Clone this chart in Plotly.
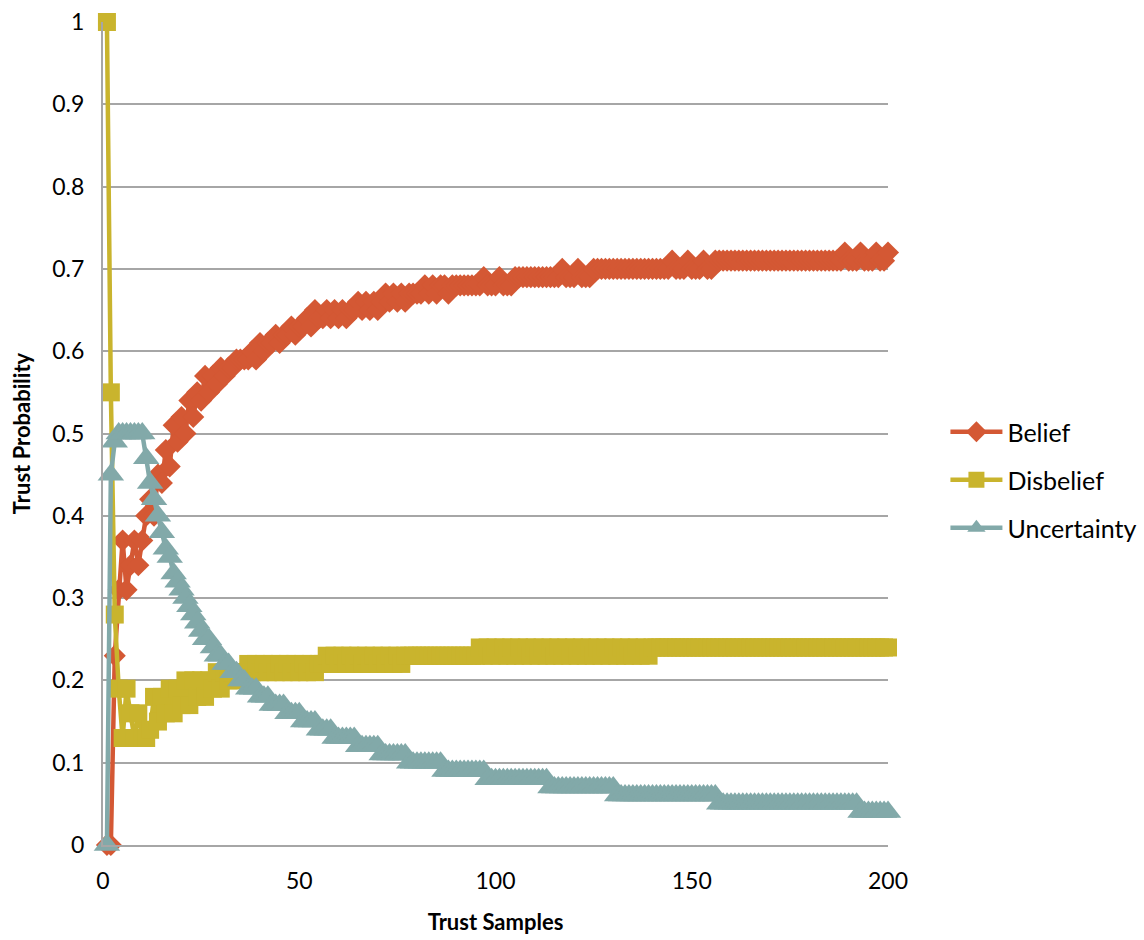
import plotly.graph_objects as go

# Trust sample index
samples = list(range(1, 201))

belief = [
    0.00, 0.00, 0.23, 0.31, 0.37, 0.31, 0.34, 0.37, 0.34, 0.37,
    0.40, 0.42, 0.40, 0.45, 0.44, 0.48, 0.46, 0.51, 0.49, 0.52,
    0.50, 0.54, 0.52, 0.55, 0.54, 0.57, 0.55, 0.57, 0.56, 0.58,
    0.57, 0.58, 0.58, 0.59, 0.59, 0.59, 0.59, 0.60, 0.59, 0.61,
    0.60, 0.61, 0.61, 0.62, 0.61, 0.62, 0.62, 0.63, 0.62, 0.63,
    0.63, 0.64, 0.63, 0.65, 0.64, 0.64, 0.65, 0.64, 0.65, 0.64,
    0.65, 0.64, 0.65, 0.65, 0.66, 0.65, 0.66, 0.65, 0.66, 0.65,
    0.66, 0.67, 0.66, 0.67, 0.66, 0.67, 0.66, 0.67, 0.67, 0.67,
    0.67, 0.68, 0.67, 0.68, 0.67, 0.68, 0.68, 0.67, 0.68, 0.68,
    0.68, 0.68, 0.68, 0.68, 0.68, 0.68, 0.69, 0.68, 0.68, 0.68,
    0.69, 0.68, 0.68, 0.68, 0.69, 0.69, 0.69, 0.69, 0.69, 0.69,
    0.69, 0.69, 0.69, 0.69, 0.69, 0.69, 0.70, 0.69, 0.69, 0.69,
    0.70, 0.69, 0.69, 0.69, 0.70, 0.70, 0.70, 0.70, 0.70, 0.70,
    0.70, 0.70, 0.70, 0.70, 0.70, 0.70, 0.70, 0.70, 0.70, 0.70,
    0.70, 0.70, 0.70, 0.70, 0.71, 0.70, 0.70, 0.70, 0.71, 0.70,
    0.70, 0.70, 0.71, 0.70, 0.70, 0.71, 0.71, 0.71, 0.71, 0.71,
    0.71, 0.71, 0.71, 0.71, 0.71, 0.71, 0.71, 0.71, 0.71, 0.71,
    0.71, 0.71, 0.71, 0.71, 0.71, 0.71, 0.71, 0.71, 0.71, 0.71,
    0.71, 0.71, 0.71, 0.71, 0.71, 0.71, 0.71, 0.71, 0.72, 0.71,
    0.71, 0.71, 0.72, 0.71, 0.71, 0.71, 0.72, 0.71, 0.71, 0.72,
]

disbelief = [
    1.00, 0.55, 0.28, 0.19, 0.13, 0.19, 0.16, 0.13, 0.16, 0.13,
    0.13, 0.14, 0.18, 0.15, 0.18, 0.16, 0.19, 0.16, 0.19, 0.17,
    0.20, 0.17, 0.20, 0.18, 0.20, 0.18, 0.20, 0.19, 0.21, 0.19,
    0.21, 0.20, 0.21, 0.20, 0.21, 0.21, 0.22, 0.21, 0.22, 0.21,
    0.22, 0.21, 0.22, 0.21, 0.22, 0.21, 0.22, 0.21, 0.22, 0.21,
    0.22, 0.21, 0.22, 0.21, 0.22, 0.22, 0.23, 0.22, 0.23, 0.22,
    0.23, 0.22, 0.23, 0.22, 0.23, 0.22, 0.23, 0.22, 0.23, 0.22,
    0.23, 0.22, 0.23, 0.22, 0.23, 0.22, 0.23, 0.23, 0.23, 0.23,
    0.23, 0.23, 0.23, 0.23, 0.23, 0.23, 0.23, 0.23, 0.23, 0.23,
    0.23, 0.23, 0.23, 0.23, 0.23, 0.24, 0.23, 0.24, 0.23, 0.24,
    0.23, 0.24, 0.23, 0.24, 0.23, 0.24, 0.23, 0.24, 0.23, 0.24,
    0.23, 0.24, 0.23, 0.24, 0.23, 0.24, 0.23, 0.24, 0.23, 0.24,
    0.23, 0.24, 0.23, 0.24, 0.23, 0.24, 0.23, 0.24, 0.23, 0.24,
    0.23, 0.24, 0.23, 0.24, 0.23, 0.24, 0.23, 0.24, 0.23, 0.24,
    0.24, 0.24, 0.24, 0.24, 0.24, 0.24, 0.24, 0.24, 0.24, 0.24,
    0.24, 0.24, 0.24, 0.24, 0.24, 0.24, 0.24, 0.24, 0.24, 0.24,
    0.24, 0.24, 0.24, 0.24, 0.24, 0.24, 0.24, 0.24, 0.24, 0.24,
    0.24, 0.24, 0.24, 0.24, 0.24, 0.24, 0.24, 0.24, 0.24, 0.24,
    0.24, 0.24, 0.24, 0.24, 0.24, 0.24, 0.24, 0.24, 0.24, 0.24,
    0.24, 0.24, 0.24, 0.24, 0.24, 0.24, 0.24, 0.24, 0.24, 0.24,
]

uncertainty = [
    0.00, 0.45, 0.49, 0.50, 0.50, 0.50, 0.50, 0.50, 0.50, 0.50,
    0.47, 0.44, 0.42, 0.40, 0.38, 0.36, 0.35, 0.33, 0.32, 0.31,
    0.30, 0.29, 0.28, 0.27, 0.26, 0.25, 0.25, 0.24, 0.23, 0.23,
    0.22, 0.22, 0.21, 0.21, 0.20, 0.20, 0.19, 0.19, 0.19, 0.18,
    0.18, 0.18, 0.17, 0.17, 0.17, 0.17, 0.16, 0.16, 0.16, 0.16,
    0.15, 0.15, 0.15, 0.15, 0.14, 0.14, 0.14, 0.14, 0.13, 0.13,
    0.13, 0.13, 0.13, 0.13, 0.12, 0.12, 0.12, 0.12, 0.12, 0.12,
    0.11, 0.11, 0.11, 0.11, 0.11, 0.11, 0.11, 0.10, 0.10, 0.10,
    0.10, 0.10, 0.10, 0.10, 0.10, 0.10, 0.09, 0.09, 0.09, 0.09,
    0.09, 0.09, 0.09, 0.09, 0.09, 0.09, 0.09, 0.08, 0.08, 0.08,
    0.08, 0.08, 0.08, 0.08, 0.08, 0.08, 0.08, 0.08, 0.08, 0.08,
    0.08, 0.08, 0.08, 0.07, 0.07, 0.07, 0.07, 0.07, 0.07, 0.07,
    0.07, 0.07, 0.07, 0.07, 0.07, 0.07, 0.07, 0.07, 0.07, 0.07,
    0.06, 0.06, 0.06, 0.06, 0.06, 0.06, 0.06, 0.06, 0.06, 0.06,
    0.06, 0.06, 0.06, 0.06, 0.06, 0.06, 0.06, 0.06, 0.06, 0.06,
    0.06, 0.06, 0.06, 0.06, 0.06, 0.06, 0.05, 0.05, 0.05, 0.05,
    0.05, 0.05, 0.05, 0.05, 0.05, 0.05, 0.05, 0.05, 0.05, 0.05,
    0.05, 0.05, 0.05, 0.05, 0.05, 0.05, 0.05, 0.05, 0.05, 0.05,
    0.05, 0.05, 0.05, 0.05, 0.05, 0.05, 0.05, 0.05, 0.05, 0.05,
    0.05, 0.05, 0.04, 0.04, 0.04, 0.04, 0.04, 0.04, 0.04, 0.04,
]

x_ticks = [0, 50, 100, 150, 200]

FONT = "Lato, 'Open Sans', sans-serif"
GRID = "#A6A6A6"

series = [
    ("Belief", belief, "#D45834", "diamond", 17, "legend"),
    ("Disbelief", disbelief, "#C9B42D", "square", 18, "legend2"),
    ("Uncertainty", uncertainty, "#82A9A9", "triangle-up", 23, "legend3"),
]

fig = go.Figure()
for name, vals, color, symbol, msize, leg in series:
    fig.add_trace(go.Scatter(
        x=samples, y=vals, name=name, mode="lines+markers",
        line=dict(color=color, width=4.5),
        marker=dict(symbol=symbol, size=msize, color=color,
                    line=dict(width=0)),
        cliponaxis=False,
        legend=leg,
    ))

def legend_at(ypix):
    return dict(
        x=(946 - 102.5) / 786, y=(845 - ypix) / 823,
        xanchor="left", yanchor="middle",
        bgcolor="rgba(0,0,0,0)", borderwidth=0,
        font=dict(family=FONT, size=25, color="#000000"),
        itemwidth=52,
    )

fig.update_layout(
    width=1144, height=940,
    margin=dict(l=102.5, r=255.5, t=22, b=95, autoexpand=False),
    plot_bgcolor="white", paper_bgcolor="white",
    font=dict(family=FONT, size=22, color="#000000"),
    showlegend=True,
    legend=legend_at(432),
    legend2=legend_at(480),
    legend3=legend_at(528),
    xaxis=dict(
        range=[0, 200], tickvals=x_ticks, showgrid=False, zeroline=False,
        showline=True, linecolor=GRID, linewidth=2,
        ticks="", ticklabelstandoff=14,
        tickfont=dict(family=FONT, size=23),
        title=dict(text="<b>Trust Samples</b>", standoff=22,
                   font=dict(family=FONT, size=22)),
    ),
    yaxis=dict(
        range=[0, 1], dtick=0.1, tick0=0, showgrid=True, gridcolor=GRID,
        gridwidth=2, zeroline=False, showline=True, linecolor=GRID,
        linewidth=2, ticks="", ticklabelstandoff=12,
        tickfont=dict(family=FONT, size=23),
        title=dict(text="<b>Trust Probability</b>", standoff=16,
                   font=dict(family=FONT, size=22)),
    ),
)

fig.write_html("out.html")
